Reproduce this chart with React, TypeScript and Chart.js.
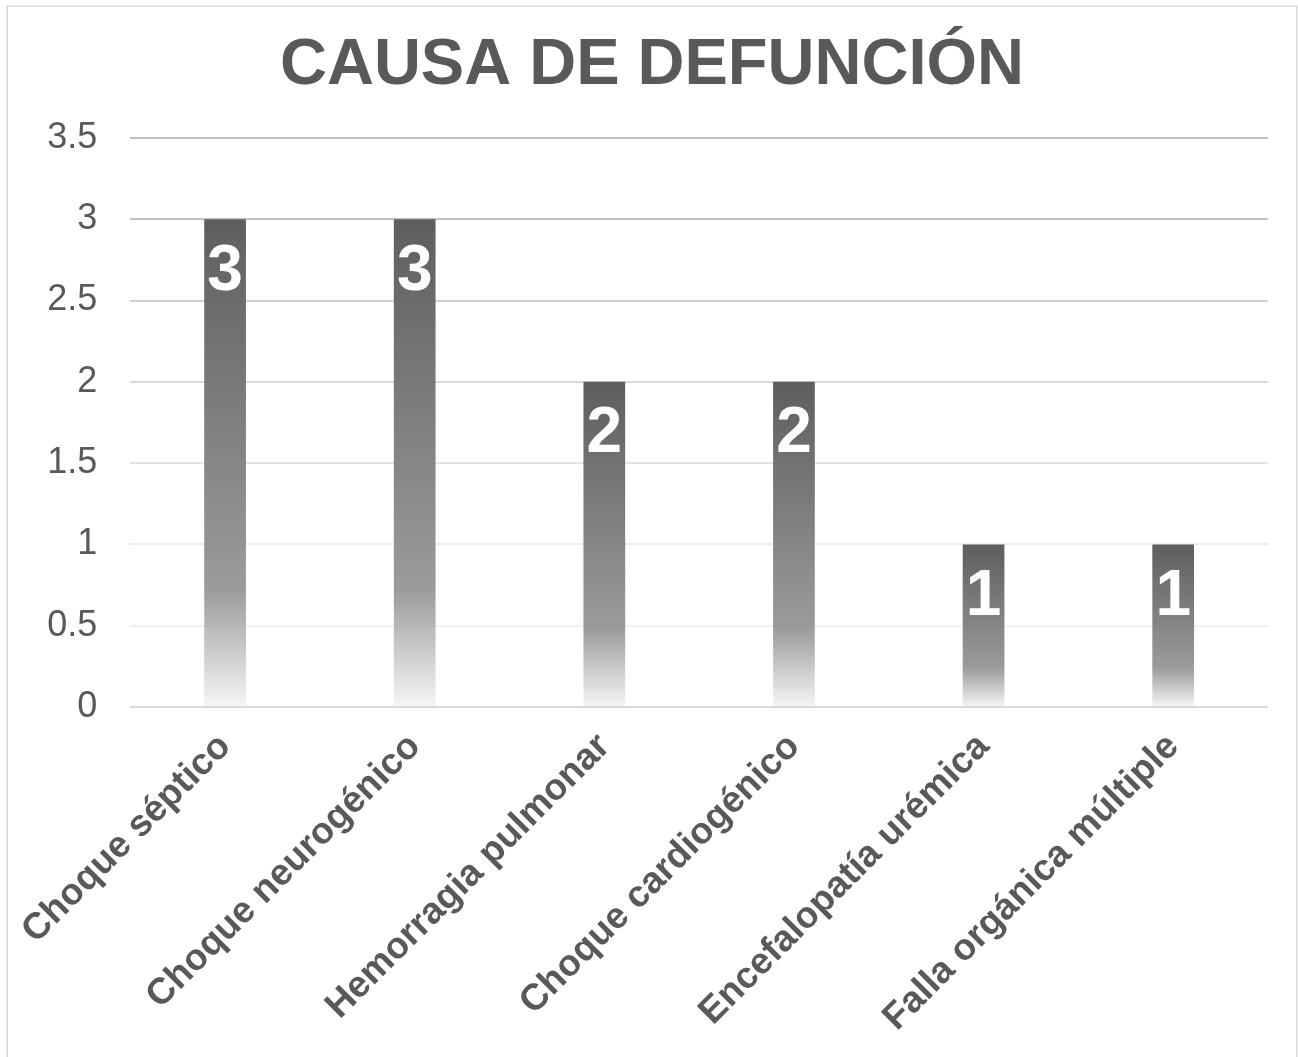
import React, { useEffect, useRef } from "react";
import { Chart, registerables } from "chart.js";

Chart.register(...registerables);

const title = "CAUSA DE DEFUNCIÓN";
const categories = [
  "Choque séptico",
  "Choque neurogénico",
  "Hemorragia pulmonar",
  "Choque cardiogénico",
  "Encefalopatía urémica",
  "Falla orgánica múltiple",
];
const values = [3, 3, 2, 2, 1, 1];
const yMin = 0;
const yMax = 3.5;
const yStep = 0.5;
// tick labels from bottom (0) to top (3.5)
const yTickLabels = ["0", "0.5", "1", "1.5", "2", "2.5", "3", "3.5"];
// grid line colours from bottom (0) to top (3.5)
const gridColors = ["#d9d9d9", "#f0f0f0", "#ececec", "#e3e3e3", "#dadada", "#d0d0d0", "#c3c3c3", "#bfbfbf"];

const FONT = "'Liberation Sans', Arial, sans-serif";
const TEXT = "#595959";

export default function App() {
  const ref = useRef<HTMLCanvasElement>(null);

  useEffect(() => {
    const canvas = ref.current;
    if (!canvas) return;

    const framePlugin = {
      id: "frame",
      beforeDraw(chart: any) {
        const c = chart.ctx;
        c.save();
        c.fillStyle = "#ffffff";
        c.fillRect(0, 0, chart.width, chart.height);
        c.strokeStyle = "#d9d9d9";
        c.lineWidth = 1.5;
        c.strokeRect(7.25, 6.25, 1289.5, 1100);
        c.fillStyle = TEXT;
        c.font = `bold 65px ${FONT}`;
        c.textAlign = "center";
        c.textBaseline = "middle";
        c.fillText(title, 652, 66);
        c.restore();
      },
    };

    const labelPlugin = {
      id: "barLabels",
      afterDatasetsDraw(chart: any) {
        const c = chart.ctx;
        const meta = chart.getDatasetMeta(0);
        c.save();
        c.fillStyle = "#ffffff";
        c.font = `bold 64px ${FONT}`;
        c.textAlign = "center";
        c.textBaseline = "middle";
        meta.data.forEach((bar: any, i: number) => {
          c.fillText(String(values[i]), bar.x, bar.y + 53);
        });
        c.restore();
      },
    };

    const chart = new Chart(canvas, {
      type: "bar",
      data: {
        labels: categories,
        datasets: [
          {
            data: values,
            barPercentage: 0.22,
            categoryPercentage: 1,
            borderWidth: 0,
            backgroundColor: (ctx: any) => {
              const ch = ctx.chart;
              const ys = ch.scales && ch.scales.y;
              if (!ch.chartArea || !ys) return "#7a7a7a";
              const v = ctx.raw ?? 0;
              const top = ys.getPixelForValue(v);
              const bottom = ys.getPixelForValue(0);
              const g = ch.ctx.createLinearGradient(0, top, 0, bottom);
              g.addColorStop(0, "#5e5e5e");
              g.addColorStop(0.76, "#9b9b9b");
              g.addColorStop(1, "#f6f6f6");
              return g;
            },
          },
        ],
      },
      options: {
        responsive: false,
        animation: false,
        layout: { padding: { left: 8, top: 138, right: 30, bottom: 0 } },
        plugins: {
          legend: { display: false },
          title: { display: false },
          tooltip: { enabled: false },
        },
        scales: {
          x: {
            grid: { display: false, drawTicks: false },
            border: { display: false },
            afterFit: (scale: any) => {
              scale.height = 350;
            },
            ticks: {
              minRotation: 45,
              maxRotation: 45,
              autoSkip: false,
              padding: 18,
              color: TEXT,
              font: { family: FONT, size: 37, weight: "bold" },
            },
          },
          y: {
            min: yMin,
            max: yMax,
            grid: {
              drawTicks: false,
              lineWidth: 2,
              color: (ctx: any) => gridColors[ctx.index] ?? "#d9d9d9",
            },
            border: { display: false },
            afterFit: (scale: any) => {
              scale.width = 122;
            },
            ticks: {
              stepSize: yStep,
              padding: 33,
              color: TEXT,
              font: { family: FONT, size: 36 },
              callback: (_v: any, i: number) => yTickLabels[i],
            },
          },
        },
      },
      plugins: [framePlugin, labelPlugin],
    } as any);

    return () => chart.destroy();
  }, []);

  return (
    <div style={{ position: "absolute", left: 0, top: 0, width: 1298, height: 1057, overflow: "hidden" }}>
      <canvas ref={ref} width={1298} height={1057} style={{ display: "block", width: 1298, height: 1057 }} />
    </div>
  );
}
